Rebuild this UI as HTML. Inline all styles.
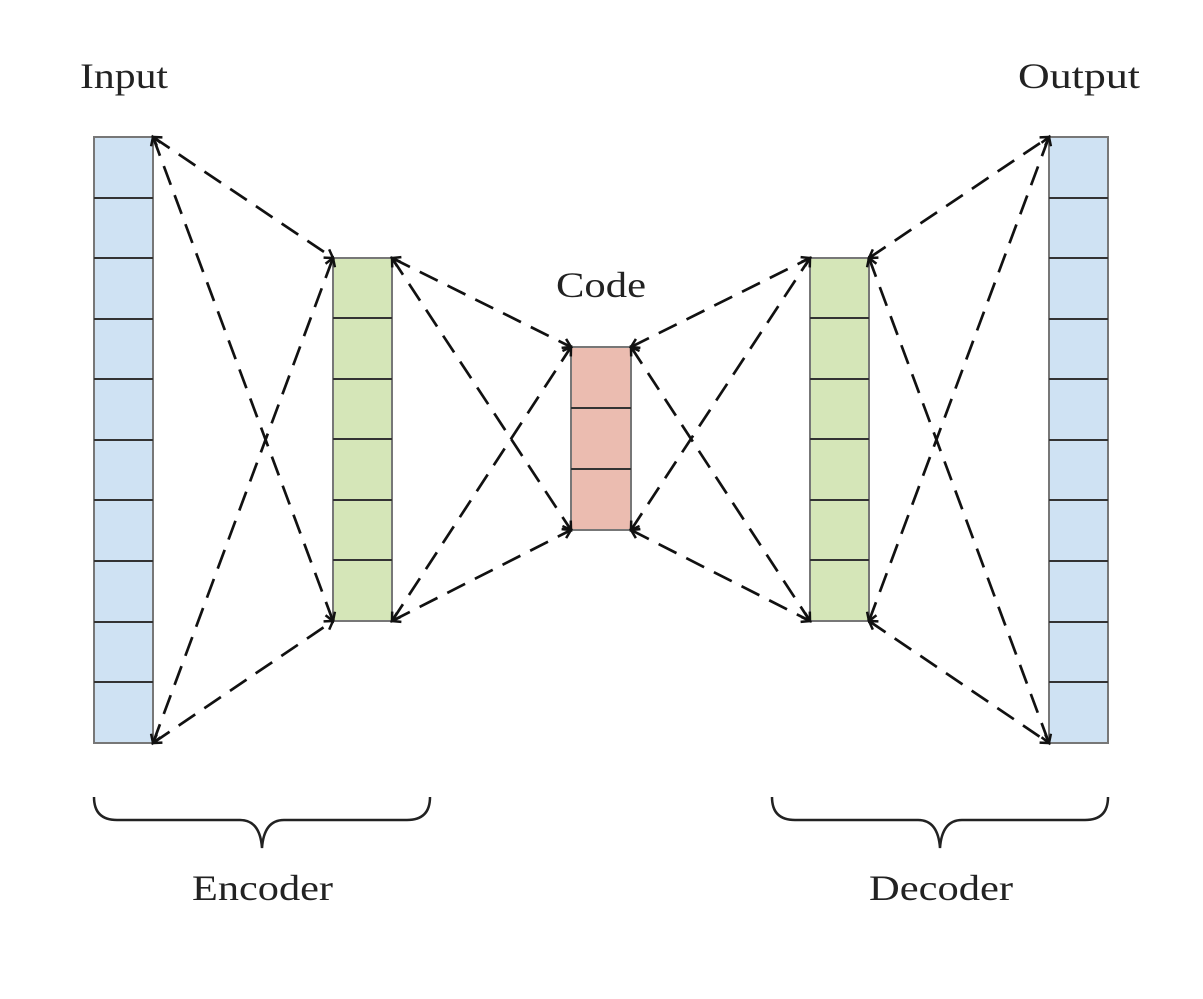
<!DOCTYPE html>
<html><head><meta charset="utf-8"><style>html,body{margin:0;padding:0;background:#fff}svg{display:block}</style></head>
<body>
<svg width="1203" height="999" viewBox="0 0 1203 999" xmlns="http://www.w3.org/2000/svg">
<defs>
<marker id="a" markerUnits="userSpaceOnUse" markerWidth="20" markerHeight="20" refX="10" refY="10" orient="auto-start-reverse">
<path d="M2,5 L10,10 L2,15" fill="none" stroke="#111" stroke-width="2.5"/>
</marker>
</defs>
<g font-family="Liberation Serif, serif" font-size="36" fill="#222">
<text x="80" y="88" textLength="88" lengthAdjust="spacingAndGlyphs">Input</text>
<text x="1018" y="88" textLength="122" lengthAdjust="spacingAndGlyphs">Output</text>
<text x="556" y="297" textLength="90" lengthAdjust="spacingAndGlyphs">Code</text>
<text x="192" y="900" textLength="141" lengthAdjust="spacingAndGlyphs">Encoder</text>
<text x="869" y="900" textLength="144" lengthAdjust="spacingAndGlyphs">Decoder</text>
</g>
<g stroke="#333" stroke-width="2">
<rect x="94" y="137" width="59" height="606" fill="#cfe2f3" stroke="#777"/>
<rect x="1049" y="137" width="59" height="606" fill="#cfe2f3" stroke="#777"/>
<rect x="333" y="258" width="59" height="363" fill="#d5e6b8" stroke="#777"/>
<rect x="810" y="258" width="59" height="363" fill="#d5e6b8" stroke="#777"/>
<rect x="571" y="347" width="60" height="183" fill="#ebbcb0" stroke="#777"/>
<path d="M94,198H153M94,258H153M94,319H153M94,379H153M94,440H153M94,500H153M94,561H153M94,622H153M94,682H153
M1049,198H1108M1049,258H1108M1049,319H1108M1049,379H1108M1049,440H1108M1049,500H1108M1049,561H1108M1049,622H1108M1049,682H1108
M333,318H392M333,379H392M333,439H392M333,500H392M333,560H392
M810,318H869M810,379H869M810,439H869M810,500H869M810,560H869
M571,408H631M571,469H631"/>
</g>
<g stroke="#111" stroke-width="2.7" stroke-dasharray="20 11" fill="none" marker-start="url(#a)" marker-end="url(#a)">
<line x1="153" y1="137" x2="333" y2="258"/>
<line x1="153" y1="137" x2="333" y2="621"/>
<line x1="153" y1="743" x2="333" y2="258"/>
<line x1="153" y1="743" x2="333" y2="621"/>
<line x1="392" y1="258" x2="571" y2="347"/>
<line x1="392" y1="258" x2="571" y2="530"/>
<line x1="392" y1="621" x2="571" y2="347"/>
<line x1="392" y1="621" x2="571" y2="530"/>
<line x1="631" y1="347" x2="810" y2="258"/>
<line x1="631" y1="347" x2="810" y2="621"/>
<line x1="631" y1="530" x2="810" y2="258"/>
<line x1="631" y1="530" x2="810" y2="621"/>
<line x1="869" y1="258" x2="1049" y2="137"/>
<line x1="869" y1="258" x2="1049" y2="743"/>
<line x1="869" y1="621" x2="1049" y2="137"/>
<line x1="869" y1="621" x2="1049" y2="743"/>
</g>
<g stroke="#222" stroke-width="2.5" fill="none">
<path d="M94,797 Q94,820 117,820 L240,820 Q260,820 262,848 Q264,820 284,820 L407,820 Q430,820 430,797"/>
<path d="M772,797 Q772,820 795,820 L918,820 Q938,820 940,848 Q942,820 962,820 L1085,820 Q1108,820 1108,797"/>
</g>
</svg>
</body></html>
